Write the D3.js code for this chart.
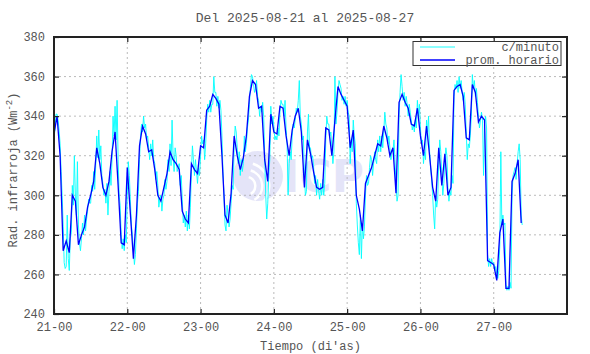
<!DOCTYPE html>
<html>
<head>
    <title>Rad. infrarroja</title>
    <script src="https://cdnjs.cloudflare.com/ajax/libs/d3/7.8.5/d3.min.js"></script>
    <style>
        body { margin: 0; background: #fff; }
        svg text { font-family: "Liberation Mono", "DejaVu Sans Mono", monospace; fill: #555; }
        .axis text { font-size: 12px; }
        .axis line { stroke: #222; stroke-width: 1.2; }
        .axis path { display: none; }
        .grid line { stroke: #aaa; stroke-width: 0.8; stroke-dasharray: 2,3; }
    </style>
</head>
<body>
<div id="chart"></div>
<script>
    // hourly mean, one value per hour since 2025-08-21 00:00
    const hourly = [
        331, 340, 320, 272, 277, 271, 300, 297, 275, 280, 284, 294, 300, 307, 324, 316, 304, 300, 307, 322, 332, 305, 276, 275,
        314, 291, 268, 290, 325, 335, 331, 322, 323, 313, 300, 297, 304, 311, 322, 318, 316, 313, 292, 288, 286, 316, 313, 311,
        325, 324, 343, 345, 351, 349, 346, 320, 290, 286, 301, 330, 320, 313, 319, 330, 350, 358, 356, 344, 345, 318, 307, 341,
        332, 331, 345, 344, 330, 320, 333, 340, 344, 332, 304, 328, 321, 312, 304, 303, 304, 334, 333, 320, 338, 355, 351, 348,
        345, 324, 333, 300, 293, 282, 306, 310, 314, 320, 326, 325, 335, 329, 320, 324, 301, 347, 351, 347, 344, 336, 335, 344,
        330, 320, 335, 320, 304, 297, 324, 305, 321, 300, 304, 353, 355, 356, 350, 329, 328, 356, 352, 337, 340, 338, 267, 266,
        265, 257, 281, 288, 253, 253, 307, 311, 318, 286
    ];

    // per-minute data, sampled every 20 minutes
    const minute = [
        328, 334, 341, 341, 338, 333, 326, 312, 300, 285, 266, 263, 264, 290, 268, 262, 278, 281, 305, 295, 320, 300, 290, 317,
        285, 276, 272, 278, 286, 280, 290, 282, 288, 292, 298, 296, 296, 305, 302, 312, 303, 315, 330, 319, 333, 318, 325, 310,
        306, 300, 303, 296, 306, 290, 302, 312, 305, 318, 340, 330, 345, 328, 348, 318, 300, 295, 280, 273, 278, 272, 280, 276,
        300, 317, 310, 298, 285, 280, 272, 265, 270, 283, 296, 302, 318, 330, 336, 332, 340, 334, 336, 328, 330, 324, 318, 326,
        320, 328, 318, 316, 308, 312, 305, 294, 298, 300, 292, 298, 300, 308, 303, 307, 318, 312, 326, 315, 338, 320, 312, 324,
        320, 312, 314, 316, 305, 310, 298, 286, 290, 284, 292, 282, 290, 283, 294, 312, 325, 318, 310, 318, 312, 306, 314, 310,
        320, 330, 326, 328, 318, 326, 338, 346, 342, 348, 342, 346, 346, 360, 352, 352, 345, 350, 344, 348, 343, 330, 312, 300,
        285, 282, 295, 290, 284, 288, 296, 305, 303, 325, 335, 332, 324, 316, 322, 310, 318, 312, 316, 330, 322, 326, 334, 338,
        346, 355, 361, 360, 356, 352, 354, 358, 350, 348, 340, 345, 342, 347, 340, 320, 300, 288, 296, 310, 318, 345, 336, 340,
        335, 328, 330, 328, 334, 330, 342, 348, 346, 346, 340, 348, 334, 326, 300, 316, 322, 318, 330, 336, 334, 338, 344, 342,
        348, 358, 340, 336, 328, 330, 310, 300, 302, 332, 341, 324, 324, 318, 320, 315, 306, 310, 300, 308, 302, 298, 306, 300,
        308, 300, 306, 328, 340, 336, 336, 330, 332, 324, 316, 322, 360, 336, 342, 352, 358, 356, 354, 348, 350, 346, 350, 345,
        348, 342, 340, 316, 328, 322, 338, 330, 326, 296, 285, 276, 270, 290, 268, 286, 278, 284, 300, 310, 305, 306, 314, 320,
        318, 310, 316, 322, 318, 316, 328, 322, 330, 322, 330, 324, 332, 342, 336, 334, 326, 330, 324, 318, 322, 322, 328, 318,
        306, 297, 300, 340, 352, 361, 355, 348, 352, 345, 350, 346, 340, 346, 342, 338, 333, 336, 332, 338, 334, 348, 340, 346,
        334, 326, 328, 316, 322, 318, 338, 332, 340, 322, 314, 308, 300, 290, 283, 300, 294, 298, 318, 328, 322, 310, 300, 306,
        318, 324, 320, 304, 297, 302, 300, 310, 306, 350, 356, 354, 358, 352, 360, 354, 358, 352, 348, 352, 346, 332, 318, 326,
        324, 330, 340, 361, 354, 358, 350, 354, 347, 340, 334, 338, 342, 338, 310, 336, 340, 334, 270, 264, 268, 264, 268, 265,
        266, 262, 264, 260, 258, 262, 275, 322, 285, 290, 285, 286, 255, 252, 254, 252, 256, 253, 300, 310, 312, 314, 308, 316,
        322, 326, 318, 290, 285
    ];

    const dayTicks = [0, 24, 48, 72, 96, 120, 144];
    const dayLabels = ["21-00", "22-00", "23-00", "24-00", "25-00", "26-00", "27-00"];
    const yTicks = [240, 260, 280, 300, 320, 340, 360, 380];

    const width = 590, height = 354;
    const margin = { left: 54, right: 23, top: 37, bottom: 40 };
    const x0 = margin.left, x1 = width - margin.right;
    const y0 = margin.top, y1 = height - margin.bottom;

    const svg = d3.select("#chart").append("svg")
        .attr("width", width)
        .attr("height", height);

    const x = d3.scaleLinear().domain([0, 168]).range([x0, x1]);
    const y = d3.scaleLinear().domain([240, 380]).range([y1, y0]);

    svg.append("defs").append("clipPath").attr("id", "clip")
        .append("rect").attr("x", x0).attr("y", y0).attr("width", x1 - x0).attr("height", y1 - y0);

    // watermark logo
    const logo = svg.append("g").attr("opacity", 0.75);
    logo.append("circle").attr("cx", 258).attr("cy", 176).attr("r", 25).attr("fill", "#dcdcf6");
    [8, 15, 22].forEach(r => {
        logo.append("path")
            .attr("d", d3.arc().innerRadius(r).outerRadius(r + 2.5).startAngle(0.3).endAngle(2.6)())
            .attr("transform", "translate(246,186)")
            .attr("fill", "#fff");
    });
    logo.append("text").attr("x", 283).attr("y", 192)
        .style("font-family", "'DejaVu Sans', sans-serif")
        .style("font-weight", "bold").style("font-size", "44px")
        .style("fill", "#dcdcf6").text("ICP");

    // grid
    const grid = svg.append("g").attr("class", "grid");
    grid.selectAll(".gy").data(yTicks.slice(1, -1)).enter().append("line")
        .attr("x1", x0).attr("x2", x1).attr("y1", d => y(d)).attr("y2", d => y(d));
    grid.selectAll(".gx").data(dayTicks.slice(1)).enter().append("line")
        .attr("y1", y0).attr("y2", y1).attr("x1", d => x(d)).attr("x2", d => x(d));

    const plot = svg.append("g").attr("clip-path", "url(#clip)");

    plot.append("path")
        .datum(minute)
        .attr("fill", "none")
        .attr("stroke", "#00ffff")
        .attr("stroke-width", 0.9)
        .attr("d", d3.line().x((d, i) => x(i / 3)).y(d => y(d)));

    plot.append("path")
        .datum(hourly)
        .attr("fill", "none")
        .attr("stroke", "#0000ff")
        .attr("stroke-width", 1.3)
        .attr("d", d3.line().x((d, i) => x(i)).y(d => y(d)));

    // axes
    svg.append("g").attr("class", "axis")
        .attr("transform", `translate(0,${y1})`)
        .call(d3.axisBottom(x).tickValues(dayTicks).tickFormat((d, i) => dayLabels[i])
            .tickSizeInner(-5).tickSizeOuter(0).tickPadding(8));
    svg.append("g").attr("class", "axis")
        .attr("transform", `translate(0,${y0})`)
        .call(d3.axisTop(x).tickValues(dayTicks.slice(1)).tickFormat("")
            .tickSizeInner(-5).tickSizeOuter(0));
    svg.append("g").attr("class", "axis")
        .attr("transform", `translate(${x0},0)`)
        .call(d3.axisLeft(y).tickValues(yTicks).tickSizeInner(-5).tickSizeOuter(0).tickPadding(9));
    svg.append("g").attr("class", "axis")
        .attr("transform", `translate(${x1},0)`)
        .call(d3.axisRight(y).tickValues(yTicks.slice(1, -1)).tickFormat("")
            .tickSizeInner(-5).tickSizeOuter(0));

    // frame
    svg.append("rect")
        .attr("x", x0).attr("y", y0).attr("width", x1 - x0).attr("height", y1 - y0)
        .attr("fill", "none").attr("stroke", "#222").attr("stroke-width", 2);

    // title and labels
    svg.append("text").attr("x", 305).attr("y", 22)
        .attr("text-anchor", "middle").style("font-size", "13px")
        .text("Del 2025-08-21 al 2025-08-27");

    svg.append("text").attr("x", (x0 + x1) / 2).attr("y", 350)
        .attr("text-anchor", "middle").style("font-size", "12px")
        .text("Tiempo (di'as)");

    const yl = svg.append("text")
        .attr("transform", "translate(17,170) rotate(-90)")
        .attr("text-anchor", "middle").style("font-size", "12px");
    yl.append("tspan").text("Rad. infrarroja (Wm");
    yl.append("tspan").attr("dy", -5).style("font-size", "9px").text("-2");
    yl.append("tspan").attr("dy", 5).text(")");

    // legend
    const legend = svg.append("g");
    legend.append("rect")
        .attr("x", 413).attr("y", 41.5).attr("width", 148).attr("height", 24)
        .attr("fill", "#fff").attr("stroke", "#333").attr("stroke-width", 1);
    const items = [["c/minuto", "#00ffff", 0.9], ["prom. horario", "#0000ff", 1.3]];
    items.forEach((it, i) => {
        const ly = 47 + i * 13;
        legend.append("line").attr("x1", 420).attr("x2", 455).attr("y1", ly).attr("y2", ly)
            .attr("stroke", it[1]).attr("stroke-width", it[2]);
        legend.append("text").attr("x", 559).attr("y", ly + 4)
            .attr("text-anchor", "end").style("font-size", "12px").text(it[0]);
    });
</script>
</body>
</html>
